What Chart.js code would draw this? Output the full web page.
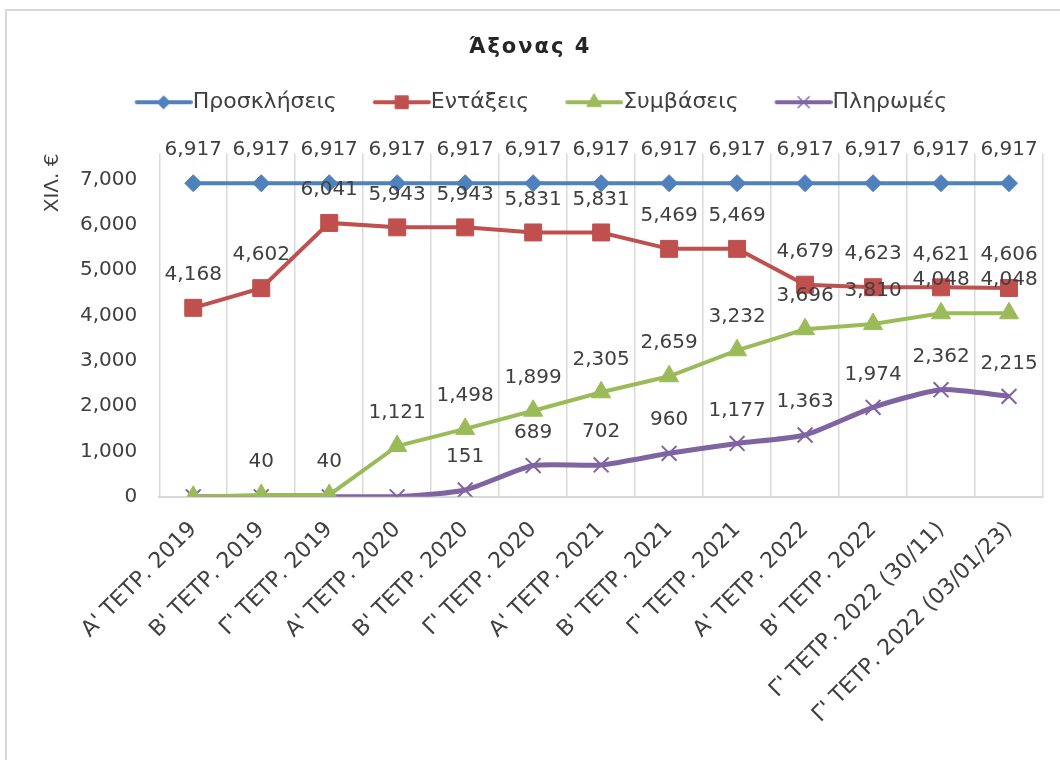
<!DOCTYPE html>
<html>
<head>
<meta charset="utf-8">
<script src="https://cdn.jsdelivr.net/npm/chart.js@4/dist/chart.umd.min.js"></script>
<style>
  html, body { margin: 0; padding: 0; background: #ffffff; overflow: hidden; }
  .frame {
    position: absolute; left: 5px; top: 9px;
    width: 1080px; height: 790px;
    border: 2px solid #d9d9d9; background: #ffffff;
  }
  .holder { position: relative; width: 1055px; height: 750px; }
</style>
</head>
<body>
<div class="frame"><div class="holder"><canvas id="axis-chart"></canvas></div></div>
<script>
const categories = [
  "Α' ΤΕΤΡ. 2019", "Β' ΤΕΤΡ. 2019", "Γ' ΤΕΤΡ. 2019",
  "Α' ΤΕΤΡ. 2020", "Β' ΤΕΤΡ. 2020", "Γ' ΤΕΤΡ. 2020",
  "Α' ΤΕΤΡ. 2021", "Β' ΤΕΤΡ. 2021", "Γ' ΤΕΤΡ. 2021",
  "Α' ΤΕΤΡ. 2022", "Β' ΤΕΤΡ. 2022",
  "Γ' ΤΕΤΡ. 2022 (30/11)", "Γ' ΤΕΤΡ. 2022 (03/01/23)",
];
const seriesNames = ["Προσκλήσεις", "Εντάξεις", "Συμβάσεις", "Πληρωμές"];
const calls = [6917, 6917, 6917, 6917, 6917, 6917, 6917, 6917, 6917, 6917, 6917, 6917, 6917];
const approvals = [4168, 4602, 6041, 5943, 5943, 5831, 5831, 5469, 5469, 4679, 4623, 4621, 4606];
const contracts = [0, 40, 40, 1121, 1498, 1899, 2305, 2659, 3232, 3696, 3810, 4048, 4048];
const payments = [0, 0, 0, 0, 151, 689, 702, 960, 1177, 1363, 1974, 2362, 2215];
const yTicks = [0, 1000, 2000, 3000, 4000, 5000, 6000, 7000];

const colors = ["#4f81bd", "#c0504d", "#9bbb59", "#8064a2"];
const markers = ["rectRot", "rect", "triangle", "crossRot"];
const markerSize = [8.5, 12, 11, 10.5];
const textColor = "#404040";
const fontFamily = "'DejaVu Sans', sans-serif";

// legend geometry: blank gap before the line, line length, half font
const legendFont = 22;
const legendGap = 24;
const legendLine = 54;
const half = legendFont / 2;
const legendBoxW = legendGap + legendLine + 2 - half;

// line + marker image for one legend entry
function legendIcon(i) {
  const c = document.createElement("canvas");
  c.width = Math.round(legendBoxW + 2 * half);
  c.height = 22;
  const g = c.getContext("2d");
  const x0 = half + legendGap;
  g.strokeStyle = colors[i];
  g.lineWidth = 4;
  g.lineCap = "round";
  g.beginPath();
  g.moveTo(x0, 11);
  g.lineTo(x0 + legendLine, 11);
  g.stroke();
  g.fillStyle = colors[i];
  g.lineWidth = i === 3 ? 1.5 : 1;
  Chart.helpers.drawPoint(g, { pointStyle: markers[i], radius: markerSize[i] * 0.75, borderWidth: g.lineWidth }, x0 + legendLine / 2, 11);
  g.fill();
  return c;
}

const valueLabels = {
  id: "valueLabels",
  afterDatasetsDraw(chart) {
    const ctx = chart.ctx;
    ctx.save();
    ctx.font = "20px " + fontFamily;
    ctx.fillStyle = textColor;
    ctx.textAlign = "center";
    ctx.textBaseline = "middle";
    chart.data.datasets.forEach((ds, i) => {
      chart.getDatasetMeta(i).data.forEach((pt, j) => {
        const v = ds.data[j];
        if (!v) return;
        ctx.fillText(v.toLocaleString("en-US"), pt.x, pt.y - 33);
      });
    });
    ctx.restore();
  },
};

const spacedTitle = {
  id: "spacedTitle",
  beforeDraw(chart) {
    const tb = chart.titleBlock;
    if (!tb || tb._spaced) return;
    const orig = tb.draw.bind(tb);
    tb.draw = function () {
      const ctx = chart.ctx;
      ctx.letterSpacing = "2px";
      orig();
      ctx.letterSpacing = "0px";
    };
    tb._spaced = true;
  },
};

const datasets = [calls, approvals, contracts, payments].map((vals, i) => ({
  label: seriesNames[i],
  data: vals,
  borderColor: colors[i],
  backgroundColor: colors[i],
  borderWidth: i === 3 ? 5 : 4,
  pointStyle: markers[i],
  pointRadius: markerSize[i],
  pointHoverRadius: markerSize[i],
  pointBorderWidth: i === 3 ? 2 : 1,
  pointBackgroundColor: colors[i],
  pointBorderColor: colors[i],
  tension: i === 3 ? 0.2 : 0,
}));

const chart = new Chart(document.querySelector("#axis-chart"), {
  type: "line",
  data: { labels: categories, datasets: datasets },
  options: {
    responsive: true,
    maintainAspectRatio: false,
    animation: false,
    layout: { padding: { top: 20, left: 10, right: 19, bottom: 13 } },
    plugins: {
      tooltip: { enabled: false },
      title: {
        display: true,
        text: "Άξονας 4",
        color: "#262626",
        font: { family: fontFamily, size: 21, weight: "bold" },
        padding: { top: 4, bottom: 17 },
      },
      subtitle: {
        // empty spacer between legend and plot
        display: true,
        text: "",
        weight: 500,
        font: { size: 2 },
        padding: { top: 14, bottom: 14 },
      },
      legend: {
        position: "top",
        labels: {
          color: textColor,
          font: { family: fontFamily, size: legendFont },
          usePointStyle: true,
          pointStyleWidth: legendBoxW,
          padding: 14,
          generateLabels(ch) {
            const items = Chart.defaults.plugins.legend.labels.generateLabels(ch);
            items.forEach((it, i) => { it.pointStyle = legendIcon(i); });
            return items;
          },
        },
      },
    },
    scales: {
      x: {
        offset: true,
        grid: { offset: true, color: "#d9d9d9", lineWidth: 1.5, drawTicks: false },
        border: { color: "#d9d9d9", width: 2 },
        afterFit(scale) {
          // the slanted first label already sits under the y axis
          scale.paddingLeft = 0;
        },
        ticks: {
          color: textColor,
          font: { family: fontFamily, size: 22 },
          minRotation: 45,
          maxRotation: 45,
          padding: 20,
        },
      },
      y: {
        min: 0,
        max: 7570,
        grid: { display: false, drawTicks: false },
        border: { display: false },
        afterBuildTicks(scale) {
          scale.ticks = yTicks.map((v) => ({ value: v }));
        },
        ticks: {
          color: textColor,
          font: { family: fontFamily, size: 20 },
          padding: 22,
          callback: (v) => v.toLocaleString("en-US"),
        },
        title: {
          display: true,
          text: "ΧΙΛ. €",
          align: "end",
          color: textColor,
          font: { family: fontFamily, size: 20 },
          padding: { top: 24, bottom: -7 },
        },
      },
    },
  },
  plugins: [valueLabels, spacedTitle],
});
</script>
</body>
</html>
